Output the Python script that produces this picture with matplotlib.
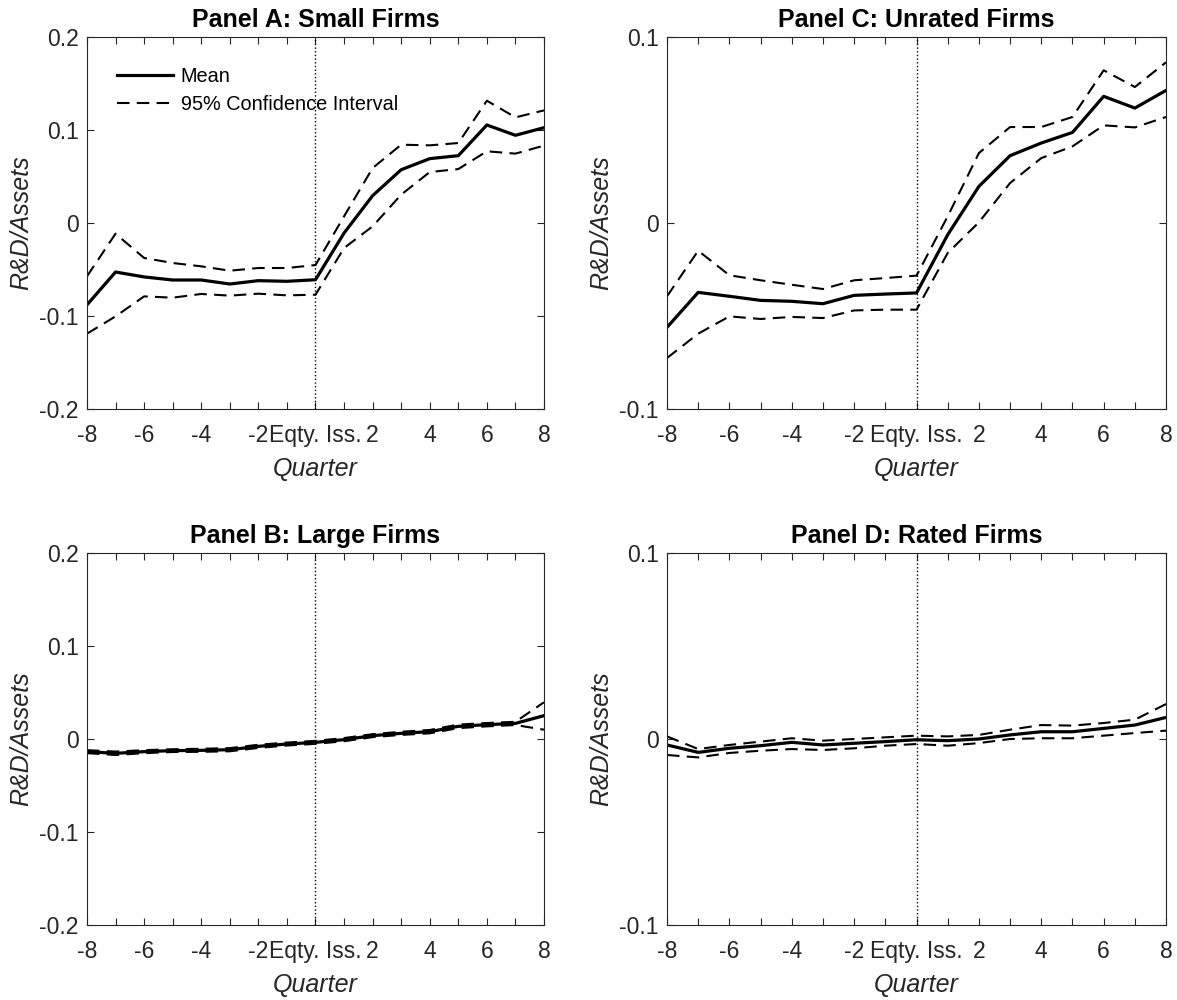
import numpy as np
import matplotlib.pyplot as plt

plt.rcParams['font.family'] = ['Liberation Sans', 'DejaVu Sans']

quarters = np.arange(-8, 9)
tick_pos = [-8, -6, -4, -2, 0, 2, 4, 6, 8]
tick_lab = ['-8', '-6', '-4', '-2', 'Eqty. Iss.', '2', '4', '6', '8']

# Panel A: small firms
small_mean = [-0.088, -0.0527, -0.058, -0.0613, -0.0613, -0.0656, -0.062, -0.0627, -0.061,
              -0.0108, 0.0294, 0.0573, 0.0692, 0.0724, 0.1054, 0.0943, 0.1025]
small_hi = [-0.0573, -0.0115, -0.0376, -0.043, -0.0466, -0.0513, -0.0484, -0.0484, -0.0452,
            0.0072, 0.0591, 0.0842, 0.0835, 0.086, 0.1315, 0.1136, 0.1211]
small_lo = [-0.119, -0.1004, -0.0789, -0.0803, -0.0763, -0.0781, -0.076, -0.0778, -0.0771,
            -0.0269, -0.0036, 0.0305, 0.0548, 0.058, 0.0771, 0.0746, 0.0832]

# Panel B: large firms
large_mean = [-0.0136, -0.0154, -0.0136, -0.0125, -0.0122, -0.0115, -0.0079, -0.0054, -0.0036,
              -0.0007, 0.0036, 0.0061, 0.0079, 0.0136, 0.0154, 0.0168, 0.0251]
large_hi = [-0.012, -0.0135, -0.012, -0.011, -0.0105, -0.0098, -0.0062, -0.0038, -0.002,
            0.001, 0.0052, 0.0078, 0.0097, 0.0155, 0.0172, 0.0185, 0.0395]
large_lo = [-0.0152, -0.0172, -0.0152, -0.014, -0.0138, -0.0132, -0.0096, -0.007, -0.0052,
            -0.0024, 0.002, 0.0044, 0.0061, 0.0117, 0.0136, 0.015, 0.010]

# Panel C: unrated firms
unrated_mean = [-0.0561, -0.0373, -0.0394, -0.0416, -0.0421, -0.0434, -0.0389, -0.0382, -0.0376,
                -0.0063, 0.0197, 0.0362, 0.043, 0.0487, 0.0681, 0.0618, 0.0713]
unrated_hi = [-0.0394, -0.0149, -0.0281, -0.0308, -0.0332, -0.0355, -0.0308, -0.0296, -0.0283,
              0.0036, 0.0376, 0.0516, 0.0516, 0.057, 0.0821, 0.0731, 0.0864]
unrated_lo = [-0.0726, -0.0595, -0.0502, -0.0516, -0.0505, -0.0511, -0.047, -0.0466, -0.0466,
              -0.0161, 0.0004, 0.0215, 0.0349, 0.0412, 0.0525, 0.0514, 0.057]

# Panel D: rated firms
rated_mean = [-0.0032, -0.0072, -0.005, -0.0036, -0.0018, -0.0032, -0.0023, -0.0014, -0.0004,
              -0.0009, 0.0, 0.0022, 0.0039, 0.0039, 0.0057, 0.0075, 0.0116]
rated_hi = [0.0014, -0.0054, -0.0032, -0.0014, 0.0004, -0.0009, 0.0, 0.0009, 0.0018,
            0.0014, 0.0022, 0.005, 0.0075, 0.0072, 0.0086, 0.0104, 0.0188]
rated_lo = [-0.0086, -0.0099, -0.0075, -0.0063, -0.0054, -0.0059, -0.005, -0.0036, -0.0027,
            -0.0036, -0.0022, 0.0, 0.0004, 0.0004, 0.0018, 0.0032, 0.0045]

fig = plt.figure(figsize=(11.77, 10), dpi=100)

panels = [
    ([0.0739, 0.591, 0.3883, 0.372], 'Panel A: Small Firms', small_mean, small_hi, small_lo, 0.2),
    ([0.0739, 0.075, 0.3883, 0.372], 'Panel B: Large Firms', large_mean, large_hi, large_lo, 0.2),
    ([0.5667, 0.591, 0.424, 0.372], 'Panel C: Unrated Firms', unrated_mean, unrated_hi, unrated_lo, 0.1),
    ([0.5667, 0.075, 0.424, 0.372], 'Panel D: Rated Firms', rated_mean, rated_hi, rated_lo, 0.1),
]

dash = (0, (6, 3.5))
grey = '#262626'

for i, (rect, title, m, hi, lo, lim) in enumerate(panels):
    ax = fig.add_axes(rect)
    ax.plot(quarters, m, color='black', lw=2.3, label='Mean')
    ax.plot(quarters, hi, color='black', lw=1.5, linestyle=dash, label='95% Confidence Interval')
    ax.plot(quarters, lo, color='black', lw=1.5, linestyle=dash)
    ax.axvline(0, color='black', lw=1.0, linestyle=':')
    ax.set_xlim(-8, 8)
    ax.set_ylim(-lim, lim)
    ax.set_xticks(quarters, minor=True)
    ax.set_xticks(tick_pos)
    ax.set_xticklabels(tick_lab)
    if lim == 0.2:
        ax.set_yticks([-0.2, -0.1, 0, 0.1, 0.2])
        ax.set_yticklabels(['-0.2', '-0.1', '0', '0.1', '0.2'])
    else:
        ax.set_yticks([-0.1, 0, 0.1])
        ax.set_yticklabels(['-0.1', '0', '0.1'])
    ax.tick_params(which='both', direction='in', top=True, right=True, length=5,
                   labelsize=16.5, colors=grey, width=0.8)
    ax.tick_params(axis='x', which='major', pad=10.5)
    ax.tick_params(axis='y', which='major', pad=6)
    for s in ax.spines.values():
        s.set_color(grey)
        s.set_linewidth(0.8)
    ax.set_title(title, fontsize=18, fontweight='bold', pad=7)
    ax.set_xlabel('Quarter', fontsize=18, style='italic', color=grey, labelpad=7.5)
    ax.set_ylabel('R&D/Assets', fontsize=18, style='italic', color=grey, labelpad=4)
    if i == 0:
        ax.legend(loc='upper left', frameon=False, fontsize=14.3, handlelength=2.8,
                  handletextpad=0.4, labelspacing=0.45, borderpad=0, borderaxespad=0,
                  bbox_to_anchor=(0.0656, 0.92))

fig.savefig('out.png', dpi=100)
